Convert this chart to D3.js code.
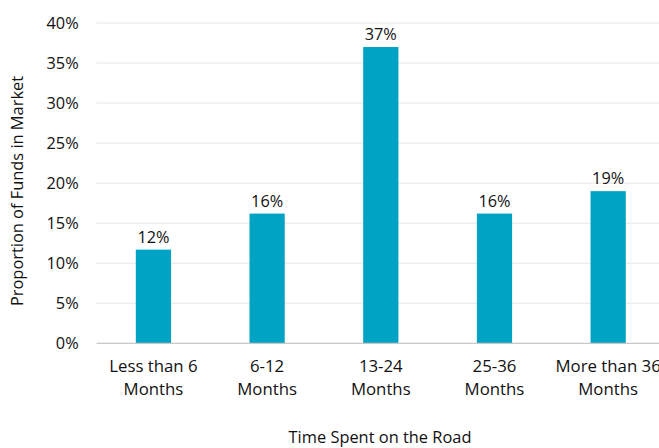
<!DOCTYPE html>
<html><head><meta charset="utf-8">
<script src="https://cdn.jsdelivr.net/npm/d3@7"></script>
<style>body{margin:0;background:#fff;}svg{display:block;font-family:"Open Sans",sans-serif;}</style>
</head><body>
<svg id="c" width="659" height="448"></svg>
<script>
const categories = [["Less than 6","Months"],["6-12","Months"],["13-24","Months"],["25-36","Months"],["More than 36","Months"]];
const values = [11.7, 16.2, 37.0, 16.2, 19.0];
const valueLabels = ["12%","16%","37%","16%","19%"];
const yTicks = [0,5,10,15,20,25,30,35,40];

const svg = d3.select("#c");
const m = {left:96.6, right:665, top:23, bottom:343.3};
const x = d3.scaleBand().domain(categories.map((d,i)=>i)).range([m.left,m.right]).paddingInner(0.69).paddingOuter(0.345);
const y = d3.scaleLinear().domain([0,40]).range([m.bottom,m.top]);

// gridlines
svg.append("g").selectAll("line").data(yTicks.filter(t=>t>0)).join("line")
  .attr("x1",m.left).attr("x2",m.right).attr("y1",d=>y(d)).attr("y2",d=>y(d))
  .attr("stroke","#e6e6e6").attr("stroke-width",1);

// y axis labels
const ya = svg.append("g").attr("transform",`translate(${m.left},0)`)
  .call(d3.axisLeft(y).tickValues(yTicks).tickFormat(d=>d+"%").tickSize(0).tickPadding(18));
ya.select(".domain").remove();
ya.selectAll("text").attr("font-family","Open Sans").attr("font-size",16.3).attr("fill","#111");

// bars
svg.append("g").selectAll("rect").data(values).join("rect")
  .attr("x",(d,i)=>x(i)).attr("width",x.bandwidth())
  .attr("y",d=>y(d)).attr("height",d=>y(0)-y(d))
  .attr("fill","#00A3C3");

// baseline
svg.append("line").attr("x1",m.left).attr("x2",m.right).attr("y1",y(0)).attr("y2",y(0))
  .attr("stroke","#c8c8c8").attr("stroke-width",1.2);

// value labels
svg.append("g").selectAll("text").data(values).join("text")
  .attr("x",(d,i)=>x(i)+x.bandwidth()/2).attr("y",d=>y(d)-7)
  .attr("text-anchor","middle").attr("font-size",16.3).attr("fill","#111")
  .text((d,i)=>valueLabels[i]);

// x category labels
const xl = svg.append("g").selectAll("text").data(categories).join("text")
  .attr("text-anchor","middle").attr("font-size",16.8).attr("fill","#111");
xl.each(function(d,i){
  const t = d3.select(this);
  d.forEach((line,j)=>{
    t.append("tspan").attr("x",x(i)+x.bandwidth()/2).attr("y",372+j*23.3).text(line);
  });
});

// axis titles
svg.append("text").attr("x",380).attr("y",443).attr("text-anchor","middle")
  .attr("font-size",16.4).attr("fill","#111").text("Time Spent on the Road");
svg.append("text").attr("transform","translate(23,191) rotate(-90)").attr("text-anchor","middle")
  .attr("font-size",16.4).attr("fill","#111").text("Proportion of Funds in Market");
</script>
</body></html>
